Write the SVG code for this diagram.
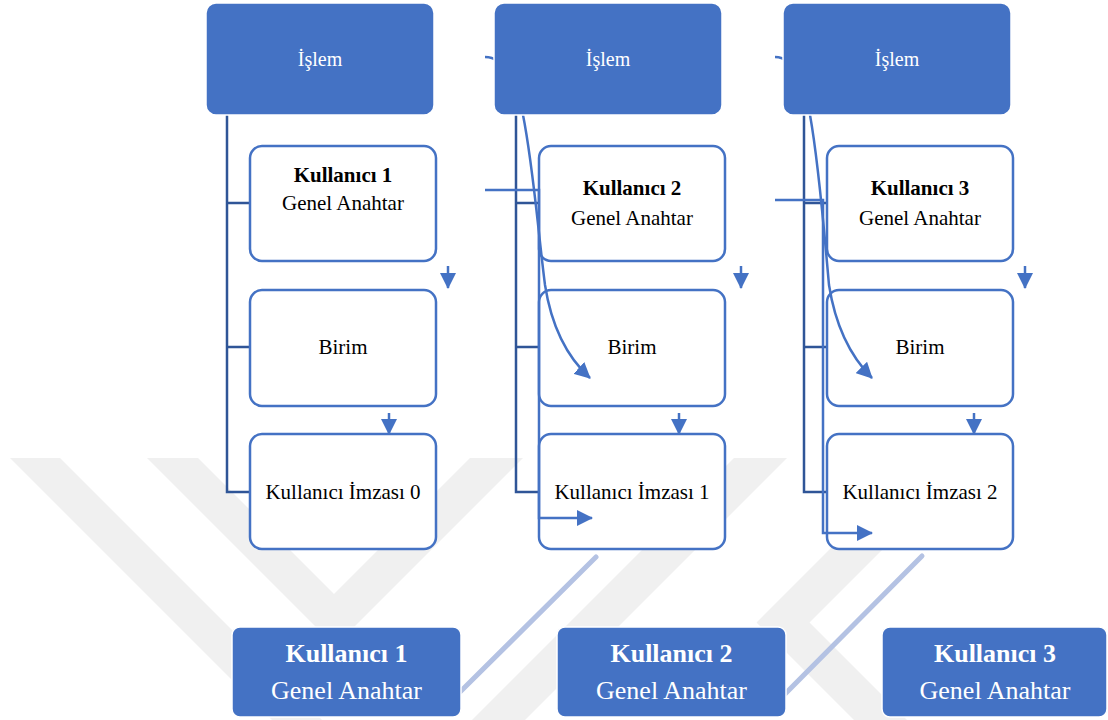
<svg xmlns="http://www.w3.org/2000/svg" width="1108" height="720" viewBox="0 0 1108 720">
<defs>
<style>
.wm{fill:#F0F0F0}
.top{fill:#4472C4;stroke:#FFFFFF;stroke-width:1.5}
.wbox{fill:#FFFFFF;stroke:#4472C4;stroke-width:2.5}
.bot{fill:#4472C4;stroke:#FFFFFF;stroke-width:1.5}
.tree{fill:none;stroke:#2F5597;stroke-width:2.5}
.conn{fill:none;stroke:#4472C4;stroke-width:2.5}
.diag{fill:none;stroke:#B4C2E3;stroke-width:5;stroke-linecap:round}
.tw{font-family:"Liberation Serif","Times New Roman",serif;fill:#FFFFFF;text-anchor:middle}
.tb{font-family:"Liberation Serif","Times New Roman",serif;fill:#000000;text-anchor:middle;font-size:21px}
.b{font-weight:bold}
</style>
<marker id="ah" markerUnits="userSpaceOnUse" markerWidth="16" markerHeight="16" refX="15" refY="8" orient="auto">
<path d="M0,0 L16,8 L0,16 z" fill="#4472C4"/>
</marker>
</defs>
<rect width="1108" height="720" fill="#FFFFFF"/>
<g id="watermark">
<polygon class="wm" points="10,458 60,458 322,720 272,720"/>
<polygon class="wm" points="147,458 198,458 334,594 470,458 523,458 335,646"/>
<polygon class="wm" points="734,458 787,458 525,720 472,720"/>
<polygon class="wm" points="921,458 974,458 809.5,622.5 907,720 854,720 756.5,622.5"/>
</g>
<g id="tree">
<path class="tree" d="M227,115 V492 H250 M227,203 H250 M227,347 H250"/>
<path class="tree" d="M516,115 V492 H539 M516,203 H539 M516,347 H539"/>
<path class="tree" d="M804,115 V492 H827 M804,203 H827 M804,347 H827"/>
</g>
<g id="n-k1"><rect class="wbox" x="250" y="146" width="186" height="115" rx="12"/>
<text class="tb b" x="343" y="182">Kullanıcı 1</text><text class="tb" x="343" y="210">Genel Anahtar</text></g>
<g id="n-b1"><rect class="wbox" x="250" y="290" width="186" height="116" rx="12"/><text class="tb" x="343" y="354">Birim</text></g>
<g id="n-i0"><rect class="wbox" x="250" y="434" width="186" height="115" rx="12"/><text class="tb" x="343" y="499">Kullanıcı İmzası 0</text></g>
<g id="n-k2"><rect class="wbox" x="539" y="146" width="186" height="115" rx="12"/>
<text class="tb b" x="632" y="195">Kullanıcı 2</text><text class="tb" x="632" y="225">Genel Anahtar</text></g>
<g id="n-b2"><rect class="wbox" x="539" y="290" width="186" height="116" rx="12"/><text class="tb" x="632" y="354">Birim</text></g>
<g id="n-i1"><rect class="wbox" x="539" y="434" width="186" height="115" rx="12"/><text class="tb" x="632" y="499">Kullanıcı İmzası 1</text></g>
<g id="n-k3"><rect class="wbox" x="827" y="146" width="186" height="115" rx="12"/>
<text class="tb b" x="920" y="195">Kullanıcı 3</text><text class="tb" x="920" y="225">Genel Anahtar</text></g>
<g id="n-b3"><rect class="wbox" x="827" y="290" width="186" height="116" rx="12"/><text class="tb" x="920" y="354">Birim</text></g>
<g id="n-i2"><rect class="wbox" x="827" y="434" width="186" height="115" rx="12"/><text class="tb" x="920" y="499">Kullanıcı İmzası 2</text></g>
<g id="connectors">
<path class="conn" d="M485,57 C508,57 518,90 523,115 C533,165 538,230 545,285 C552,330 568,358 590,378" marker-end="url(#ah)"/>
<path class="conn" d="M775,57 C797,57 805,90 810,115 C819,165 824,230 829,285 C836,330 852,358 872,378" marker-end="url(#ah)"/>
<path class="conn" d="M485,190 H539 V518 H592" marker-end="url(#ah)"/>
<path class="conn" d="M775,200 H823 V533 H872" marker-end="url(#ah)"/>
<path class="conn" d="M448,266 V288" marker-end="url(#ah)"/>
<path class="conn" d="M741,266 V288" marker-end="url(#ah)"/>
<path class="conn" d="M1025,266 V288" marker-end="url(#ah)"/>
<path class="conn" d="M389,413 V434" marker-end="url(#ah)"/>
<path class="conn" d="M679,413 V434" marker-end="url(#ah)"/>
<path class="conn" d="M974,413 V434" marker-end="url(#ah)"/>
<path class="diag" d="M460,692 L596,557"/>
<path class="diag" d="M785,694 L922,556"/>
</g>
<g id="n-p1"><rect class="top" x="206" y="3" width="228" height="112" rx="10"/><text class="tw" x="320" y="66" font-size="20">İşlem</text></g>
<g id="n-p2"><rect class="top" x="494" y="3" width="228" height="112" rx="10"/><text class="tw" x="608" y="66" font-size="20">İşlem</text></g>
<g id="n-p3"><rect class="top" x="783" y="3" width="228" height="112" rx="10"/><text class="tw" x="897" y="66" font-size="20">İşlem</text></g>
<g id="n-g1"><rect class="bot" x="232" y="627" width="229" height="90" rx="8"/>
<text class="tw b" x="346.5" y="662" font-size="26">Kullanıcı 1</text><text class="tw" x="346.5" y="699" font-size="26">Genel Anahtar</text></g>
<g id="n-g2"><rect class="bot" x="557" y="627" width="229" height="90" rx="8"/>
<text class="tw b" x="671.5" y="662" font-size="26">Kullanıcı 2</text><text class="tw" x="671.5" y="699" font-size="26">Genel Anahtar</text></g>
<g id="n-g3"><rect class="bot" x="882" y="627" width="225" height="90" rx="8"/>
<text class="tw b" x="995" y="662" font-size="26">Kullanıcı 3</text><text class="tw" x="995" y="699" font-size="26">Genel Anahtar</text></g>
</svg>
